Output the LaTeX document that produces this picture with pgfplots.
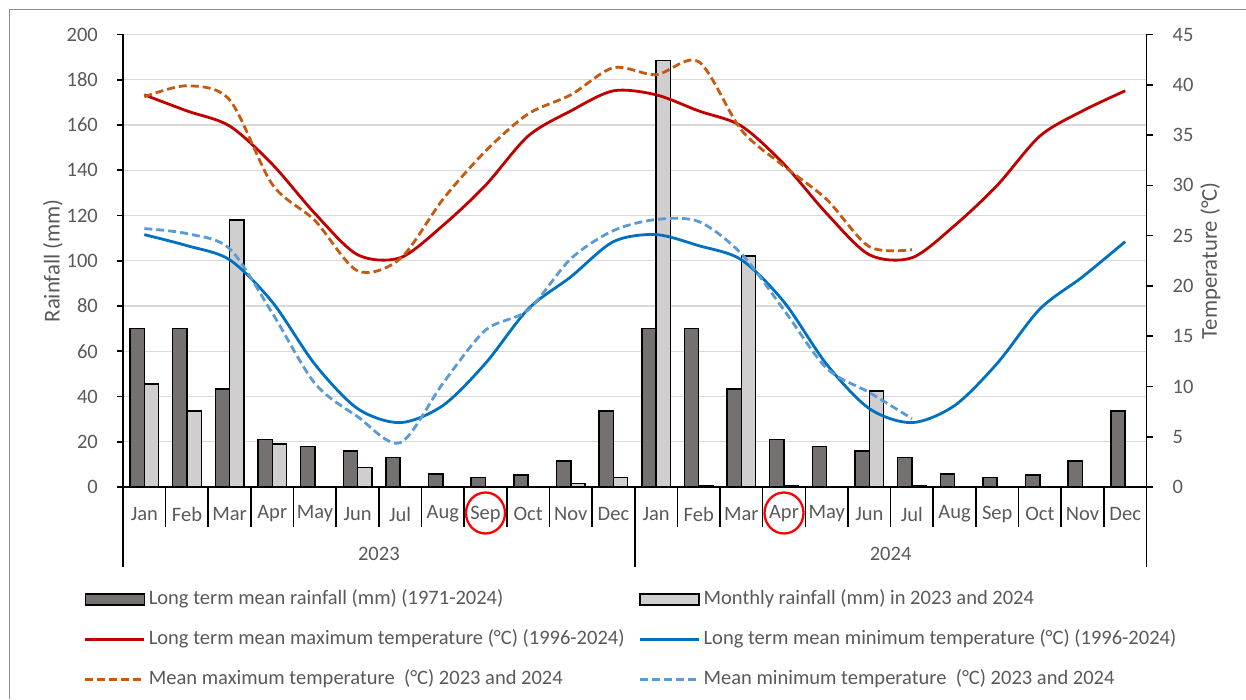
\documentclass[border=0pt]{standalone}
\usepackage{pgfplots}
\usepackage{pgfplotstable}
\pgfplotsset{compat=1.18}
\usepackage{fontspec}
\setmainfont{Carlito}
\definecolor{darkbar}{HTML}{767171}
\definecolor{lightbar}{HTML}{D0CECE}
\definecolor{txt}{HTML}{595959}
\definecolor{gridc}{HTML}{D9D9D9}
\definecolor{tmax}{HTML}{C00000}
\definecolor{tmin}{HTML}{0070C0}
\definecolor{omax}{HTML}{C55A11}
\definecolor{omin}{HTML}{5B9BD5}
\definecolor{bordc}{HTML}{8C8C8C}
\newcommand{\tickfont}{\fontsize{20.5}{24}\selectfont}
\newcommand{\labfont}{\fontsize{22.7}{27}\selectfont}

\pgfplotstableread{
x lt
0 70
1 70
2 43.4
3 21
4 18
5 16
6 13
7 5.8
8 4.3
9 5.3
10 11.5
11 33.7
12 70
13 70
14 43.4
15 21
16 18
17 16
18 13
19 5.8
20 4.3
21 5.3
22 11.5
23 33.7
}\ltrain

\pgfplotstableread{
x mo
0 45.5
1 33.7
2 118.1
3 18.9
5 8.7
10 1.5
11 4.1
12 188.6
13 0.6
14 102.1
15 0.6
17 42.5
18 0.6
}\morain

\pgfplotstableread{
x tmax tmin
0 39.0 25.1
1 37.4 24.0
2 35.9 22.6
3 32.1 18.4
4 27.2 12.2
5 23.1 7.8
6 22.8 6.4
7 26.0 8.1
8 30.0 12.3
9 34.9 17.7
10 37.4 20.9
11 39.4 24.4
12 39.0 25.1
13 37.4 24.0
14 35.9 22.6
15 32.1 18.4
16 27.2 12.2
17 23.1 7.8
18 22.8 6.4
19 26.0 8.1
20 30.0 12.3
21 34.9 17.7
22 37.4 20.9
23 39.4 24.4
}\lttemp

\pgfplotstableread{
x omax omin
0 38.8 25.7
1 39.9 25.2
2 38.5 23.7
3 30.1 17.3
4 26.5 10.3
5 21.5 7.0
6 22.7 4.4
7 28.6 10.3
8 33.4 15.6
9 37.1 17.6
10 39.0 22.7
11 41.7 25.5
12 41.0 26.6
13 42.3 26.4
14 35.5 23.2
15 31.9 17.6
16 28.6 11.8
17 23.9 9.4
18 23.6 6.8
}\obstemp

\begin{document}
\begin{tikzpicture}
\path[use as bounding box] (0pt,0pt) rectangle (1246pt,699pt);
\draw[bordc, line width=1pt] (9.5pt,0pt) -- (9.5pt,689.5pt) -- (1246pt,689.5pt);

\begin{axis}[
  at={(123pt,212pt)}, anchor=south west,
  width=1023.5pt, height=452.5pt, scale only axis,
  xmin=-0.5, xmax=23.5, ymin=0, ymax=200,
  axis x line*=bottom, axis y line*=left,
  axis line style={black, line width=1.6pt, -},
  ytick={0,20,...,200},
  ymajorgrids, grid style={gridc, line width=1.2pt},
  xtick={0,...,23},
  xticklabels={Jan,Feb,Mar,Apr,May,Jun,Jul,Aug,Sep,Oct,Nov,Dec,Jan,Feb,Mar,Apr,May,Jun,Jul,Aug,Sep,Oct,Nov,Dec},
  xtick style={draw=none},
  ytick style={black, line width=1.6pt},
  major tick length=6pt, tick align=outside,
  tick label style={font=\tickfont, text=txt},
  xticklabel style={anchor=center, yshift=-21pt, inner sep=0pt},
  yticklabel style={anchor=east, inner sep=0pt, xshift=-19pt},
  /pgf/number format/assume math mode=true,
  ylabel={Rainfall (mm)},
  every axis y label/.style={at={(axis description cs:-0.0684,0.5)}, rotate=90, anchor=center, font=\labfont, text=txt},
  ybar=0pt, bar width=14.3pt,
  clip=false,
]
\addplot[fill=darkbar, draw=black, line width=1.5pt] table[x=x, y=lt] {\ltrain};
\addplot[fill=lightbar, draw=black, line width=1.5pt] table[x=x, y=mo] {\morain};
\pgfplotsinvokeforeach{-0.5,0.5,...,23.5}{
  \draw[black, line width=1.6pt] (axis cs:#1,0) -- ([yshift=-40pt]axis cs:#1,0);
}
\pgfplotsinvokeforeach{-0.5,11.5,23.5}{
  \draw[black, line width=1.6pt] (axis cs:#1,0) -- ([yshift=-80pt]axis cs:#1,0);
}
\node[font=\tickfont, text=txt] at ([yshift=-67pt]axis cs:5.5,0) {2023};
\node[font=\tickfont, text=txt] at ([yshift=-67pt]axis cs:17.5,0) {2024};
\draw[red, line width=2.3pt] ([yshift=-26pt]axis cs:8,0) ellipse [x radius=19.5pt, y radius=20.5pt];
\draw[red, line width=2.3pt] ([yshift=-26pt]axis cs:15,0) ellipse [x radius=19.5pt, y radius=20.5pt];
\end{axis}

\begin{axis}[
  at={(123pt,212pt)}, anchor=south west,
  width=1023.5pt, height=452.5pt, scale only axis,
  xmin=-0.5, xmax=23.5, ymin=0, ymax=45,
  axis y line*=right, axis x line=none,
  axis line style={black, line width=1.6pt, -},
  ytick={0,5,...,45},
  ytick style={black, line width=1.6pt},
  major tick length=6pt, tick align=outside,
  tick label style={font=\tickfont, text=txt},
  yticklabel style={anchor=west, inner sep=0pt, xshift=20pt},
  /pgf/number format/assume math mode=true,
  ylabel={Temperature (°C)},
  every axis y label/.style={at={(axis description cs:1.0625,0.5)}, rotate=90, anchor=center, font=\labfont, text=txt},
  clip=false,
  legend columns=2,
  legend cell align=left,
  legend style={at={(-0.0381,-0.2265)}, anchor=north west, draw=none, fill=none,
    inner sep=0pt, outer sep=0pt, row sep=20pt, column sep=0pt,
    nodes={inner sep=0pt, text height=15pt, text depth=5pt, font=\tickfont, text=txt}},
  legend image code/.code={\draw[#1] (0pt,0pt) -- (59pt,0pt); \path (62pt,0pt);},
]
\addlegendimage{legend image code/.code={\draw[fill=darkbar, draw=black, line width=1.5pt] (0pt,-5.5pt) rectangle (59pt,5.5pt); \path (62pt,0pt);}}
\addlegendentry{\makebox[490pt][l]{Long term mean rainfall (mm) (1971-2024)}}
\addlegendimage{legend image code/.code={\draw[fill=lightbar, draw=black, line width=1.5pt] (0pt,-5.5pt) rectangle (59pt,5.5pt); \path (62pt,0pt);}}
\addlegendentry{Monthly rainfall (mm) in 2023 and 2024}
\addplot[tmax, line width=2.8pt, smooth] table[x=x, y=tmax] {\lttemp};
\addlegendentry{\makebox[490pt][l]{Long term mean maximum temperature (°C) (1996-2024)}}
\addplot[tmin, line width=2.8pt, smooth] table[x=x, y=tmin] {\lttemp};
\addlegendentry{Long term mean minimum temperature (°C) (1996-2024)}
\addplot[omax, line width=2.8pt, smooth, dash pattern=on 8pt off 4pt] table[x=x, y=omax] {\obstemp};
\addlegendentry{\makebox[490pt][l]{Mean maximum temperature~ (°C) 2023 and 2024}}
\addplot[omin, line width=2.8pt, smooth, dash pattern=on 8pt off 4pt] table[x=x, y=omin] {\obstemp};
\addlegendentry{Mean minimum temperature~ (°C) 2023 and 2024}
\end{axis}
\end{tikzpicture}
\end{document}
